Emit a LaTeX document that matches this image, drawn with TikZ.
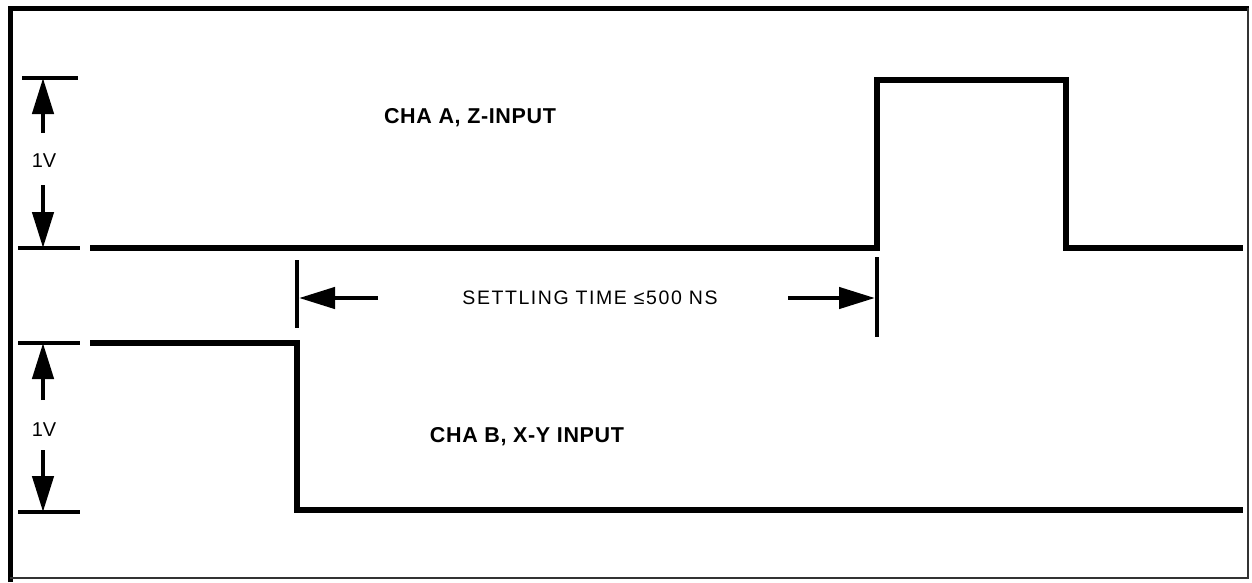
\documentclass[tikz,border=0pt]{standalone}
\usepackage{fontspec}
\setmainfont{Liberation Sans}
\usetikzlibrary{arrows.meta}
\begin{document}
\begin{tikzpicture}[x=1pt,y=-1pt,
  trace/.style={line width=5.5pt,line join=miter,line cap=butt},
  tick/.style={line width=4.5pt},
  dimarrow/.style={line width=4.5pt,-{Triangle[length=36pt,width=21pt]}},
  harrow/.style={line width=4.5pt,-{Triangle[length=36pt,width=21pt]}},
  bold lbl/.style={font=\fontsize{21.5}{25}\selectfont\bfseries\addfontfeatures{LetterSpace=3},inner sep=0pt},
  small lbl/.style={font=\fontsize{19.5}{23}\selectfont\addfontfeatures{LetterSpace=8},inner sep=0pt},
  volt lbl/.style={font=\fontsize{20}{23}\selectfont,inner sep=0pt}]
\useasboundingbox (0,0) rectangle (1252,582);
% frame
\draw[line width=5pt] (10,582) -- (10,8) -- (1249,8);
\draw[line width=1.5pt,black!80] (1248,8) -- (1248,578) -- (10,578);

% channel A dimension
\coordinate (atopL) at (22,78);
\coordinate (atopR) at (78,78);
\coordinate (abotL) at (18,248);
\coordinate (abotR) at (80,248);
\coordinate (atip1) at (43,78);
\coordinate (atail1) at (43,133);
\coordinate (atip2) at (43,248);
\coordinate (atail2) at (43,185);
\draw[tick] (atopL) -- (atopR);
\draw[tick] (abotL) -- (abotR);
\draw[dimarrow] (atail1) -- (atip1);
\draw[dimarrow] (atail2) -- (atip2);
\node[volt lbl] (va) at (44,161) {1V};

% channel B dimension
\coordinate (btopL) at (18,343);
\coordinate (btopR) at (80,343);
\coordinate (bbotL) at (18,512);
\coordinate (bbotR) at (80,512);
\coordinate (btip1) at (43,343);
\coordinate (btail1) at (43,400);
\coordinate (btip2) at (43,512);
\coordinate (btail2) at (43,450);
\draw[tick] (btopL) -- (btopR);
\draw[tick] (bbotL) -- (bbotR);
\draw[dimarrow] (btail1) -- (btip1);
\draw[dimarrow] (btail2) -- (btip2);
\node[volt lbl] (vb) at (44,430) {1V};

% trace A
\coordinate (a0) at (90,248);
\coordinate (a1) at (877,248);
\coordinate (a2) at (877,80);
\coordinate (a3) at (1066,80);
\coordinate (a4) at (1066,248);
\coordinate (a5) at (1243,248);
\draw[trace] (a0) -- (a1) -- (a2) -- (a3) -- (a4) -- (a5);

% trace B
\coordinate (b0) at (90,343);
\coordinate (b1) at (297,343);
\coordinate (b2) at (297,510);
\coordinate (b3) at (1243,510);
\draw[trace] (b0) -- (b1) -- (b2) -- (b3);

% settling time
\coordinate (m1t) at (297,260);
\coordinate (m1b) at (297,328);
\coordinate (m2t) at (877,257);
\coordinate (m2b) at (877,337);
\draw[tick] (m1t) -- (m1b);
\draw[tick] (m2t) -- (m2b);
\coordinate (lt) at (299,298);
\coordinate (ltail) at (378,298);
\coordinate (rt) at (875,298);
\coordinate (rtail) at (788,298);
\draw[harrow] (ltail) -- (lt);
\draw[harrow] (rtail) -- (rt);
\node[small lbl] (st) at (590,298) {SETTLING TIME ≤500 NS};

% labels
\node[bold lbl] (la) at (470,118) {CHA A, Z-INPUT};
\node[bold lbl] (lb) at (527,437) {CHA B, X-Y INPUT};
\end{tikzpicture}
\end{document}
